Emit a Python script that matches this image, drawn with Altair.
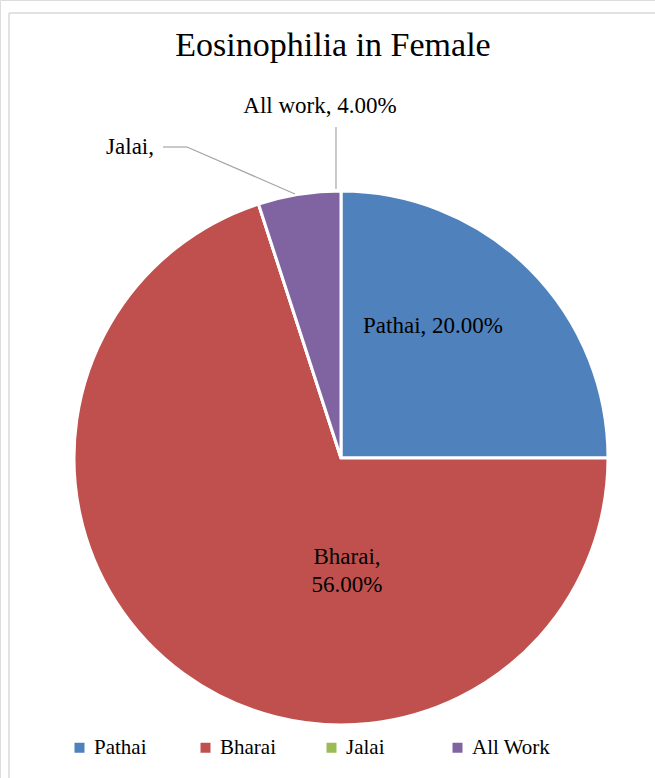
import altair as alt
import pandas as pd

categories = ["Pathai", "Bharai", "Jalai", "All Work"]
values = [20.0, 56.0, 0.0, 4.0]
colors = ["#4F81BD", "#C0504D", "#9BBB59", "#8064A2"]
label_texts = ["Pathai, 20.00%", "Bharai,\n56.00%", "Jalai,", "All work, 4.00%"]
title_text = "Eosinophilia in Female"

FONT = "Liberation Serif"
W, H = 655, 778
CX, CY, R = 341, 458, 267

df = pd.DataFrame({"category": categories, "value": values, "idx": list(range(len(categories)))})
one = pd.DataFrame({"k": [0]})

base = alt.Chart(df)

pie = base.mark_arc(stroke="white", strokeWidth=3, outerRadius=R).encode(
    theta=alt.Theta("value:Q", stack=True),
    color=alt.Color(
        "category:N",
        scale=alt.Scale(domain=categories, range=colors),
        sort=categories,
        legend=alt.Legend(
            title=None, orient="none", legendX=69, legendY=737,
            direction="horizontal", columns=4, gridAlign="all",
            symbolType="square", symbolSize=100, symbolStrokeWidth=0,
            labelFont=FONT, labelFontSize=21, labelColor="#000000",
            labelOffset=4, columnPadding=22,
        ),
    ),
    order=alt.Order("idx:Q"),
    x=alt.value(CX),
    y=alt.value(CY),
)

def label(i, x, y, align="center"):
    d = pd.DataFrame({"t": [label_texts[i]]})
    return alt.Chart(d).mark_text(
        font=FONT, fontSize=23, color="#000000", align=align,
        baseline="middle", lineBreak="\n", lineHeight=28,
    ).encode(text="t:N", x=alt.value(x), y=alt.value(y))

labels = [
    label(0, 433, 326),
    label(1, 347, 557),
    label(2, 154, 147, "right"),
    label(3, 320, 106),
]

def seg(x1, y1, x2, y2, color="#a6a6a6", w=1.2):
    return alt.Chart(one).mark_rule(color=color, strokeWidth=w).encode(
        x=alt.value(x1), y=alt.value(y1), x2=alt.value(x2), y2=alt.value(y2)
    )

leaders = [
    seg(163, 147, 187, 147),
    seg(187, 147, 295, 194),
    seg(336, 127, 336, 189),
]

frame = [
    seg(9, 13, 9, 778, "#d9d9d9", 1.5),
    seg(9, 13, 655, 13, "#d9d9d9", 1.5),
]

title = alt.Chart(pd.DataFrame({"t": [title_text]})).mark_text(
    font=FONT, fontSize=34, color="#000000", align="center", baseline="middle"
).encode(text="t:N", x=alt.value(333), y=alt.value(46))

chart = alt.layer(*frame, pie, *leaders, *labels, title).properties(
    width=W, height=H, autosize=alt.AutoSizeParams(type="none"), padding=0
).configure_view(stroke=None).configure(background="white")

chart.save("out.html", embed_options={"renderer": "svg", "actions": False})
